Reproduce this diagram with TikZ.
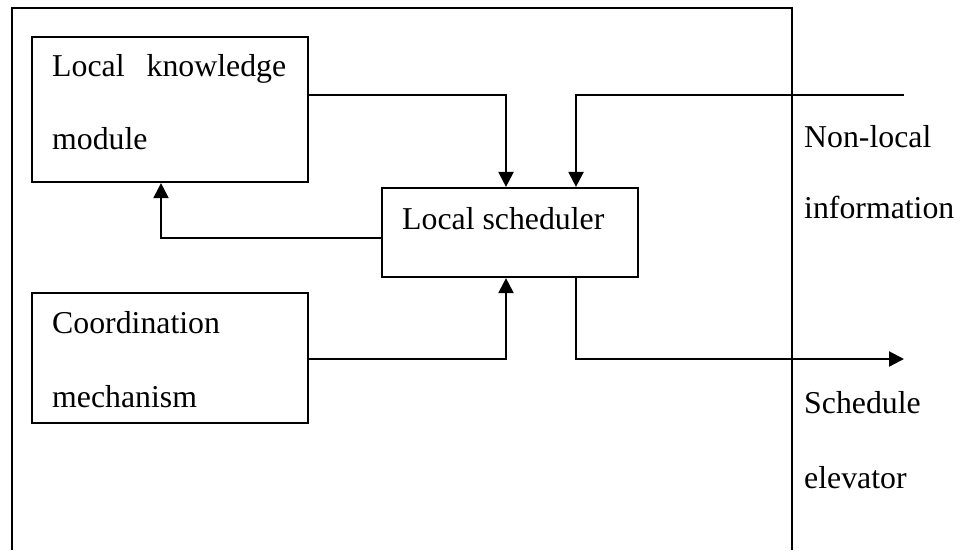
\documentclass[tikz,border=0pt]{standalone}
\usepackage{fontspec}
\setmainfont{Liberation Serif}
\usetikzlibrary{arrows.meta}
\tikzset{
  box/.style={draw, line width=2.2pt, rectangle, inner sep=0pt},
  lbl/.style={anchor=base west, inner sep=0pt, font=\fontsize{31.8}{38}\selectfont},
  link/.style={line width=2.2pt, -{Triangle[length=15pt,width=15pt]}},
  frame/.style={line width=2.2pt}
}
\begin{document}
\begin{tikzpicture}[x=1pt,y=-1pt]
\useasboundingbox (0,0) rectangle (960,550);
% outer frame
\draw[frame] (12,550) -- (12,8) -- (792,8) -- (792,550);
% boxes
\node[box, minimum width=276pt, minimum height=145pt] (lkm) at (170,109.5) {};
\node[box, minimum width=276pt, minimum height=130pt] (cm) at (170,358) {};
\node[box, minimum width=256pt, minimum height=89pt] (ls) at (510,232.5) {};
% texts
\node[lbl] (t1) at (52,76) {\makebox[234pt][s]{Local knowledge}};
\node[lbl] (t2) at (52,149) {module};
\node[lbl] (t3) at (52,333) {Coordination};
\node[lbl] (t4) at (52,407) {mechanism};
\node[lbl] (t5) at (402,229) {Local scheduler};
\node[lbl] (t6) at (804,147) {Non-local};
\node[lbl] (t7) at (804,218) {information};
\node[lbl] (t8) at (804,413) {Schedule};
\node[lbl] (t9) at (804,488) {elevator};
% helper coordinates
\coordinate (xa) at (506,0);
\coordinate (xb) at (576,0);
\coordinate (xc) at (161,0);
\coordinate (ya) at (0,95);
\coordinate (yb) at (0,238);
\coordinate (yc) at (0,359);
\coordinate (nl) at (904,95);
\coordinate (out) at (904,359);
% connectors
\draw[link] (lkm.east |- ya) -| (ls.north -| xa);
\draw[link] (nl) -| (ls.north -| xb);
\draw[link] (ls.west |- yb) -| (lkm.south -| xc);
\draw[link] (cm.east |- yc) -| (ls.south -| xa);
\draw[link] (ls.south -| xb) |- (out);
\end{tikzpicture}
\end{document}
